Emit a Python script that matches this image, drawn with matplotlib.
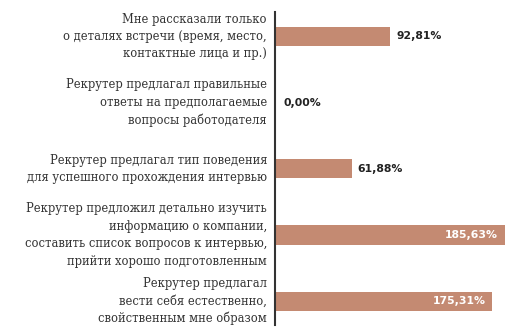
import matplotlib
matplotlib.use("Agg")
import matplotlib.pyplot as plt

categories = [
    "Мне рассказали только\nо деталях встречи (время, место,\nконтактные лица и пр.)",
    "Рекрутер предлагал правильные\nответы на предполагаемые\nвопросы работодателя",
    "Рекрутер предлагал тип поведения\nдля успешного прохождения интервью",
    "Рекрутер предложил детально изучить\nинформацию о компании,\nсоставить список вопросов к интервью,\nприйти хорошо подготовленным",
    "Рекрутер предлагал\nвести себя естественно,\nсвойственным мне образом",
]
values = [92.81, 0.00, 61.88, 185.63, 175.31]
value_labels = ["92,81%", "0,00%", "61,88%", "185,63%", "175,31%"]

W, H = 522, 333
fig = plt.figure(figsize=(W / 100, H / 100), dpi=100)
fig.patch.set_facecolor("white")
x_max = 195
ax = fig.add_axes([275 / W, 1 - 325 / H, x_max * 1.24 / W, (325 - 12) / H])

bar_color = "#C48A72"
ys = list(range(len(values)))
ax.barh(ys, values, height=0.29, color=bar_color)
ax.set_xlim(0, x_max)
ax.set_ylim(4.36, -0.37)

for s in ["top", "right", "bottom"]:
    ax.spines[s].set_visible(False)
ax.spines["left"].set_color("#333333")
ax.spines["left"].set_linewidth(1.5)
ax.set_xticks([])
ax.set_yticks([])

px = x_max / (x_max * 1.24)  # data units per pixel
for y, v, lab, cat in zip(ys, values, value_labels, categories):
    if v > 150:
        ax.text(v - 7 * px, y, lab, ha="right", va="center", color="white",
                fontsize=7.8, fontweight="bold", family="DejaVu Sans")
    else:
        ax.text(v + 6 * px if v > 0 else 9 * px, y, lab, ha="left", va="center",
                color="#222222", fontsize=7.8, fontweight="bold", family="DejaVu Sans")
    ax.text(-8 * px, y, cat, ha="right", va="center", color="#333333",
            fontsize=8.3, family="DejaVu Serif", linespacing=1.44, clip_on=False)

fig.savefig("out.png", dpi=100, facecolor="white")
